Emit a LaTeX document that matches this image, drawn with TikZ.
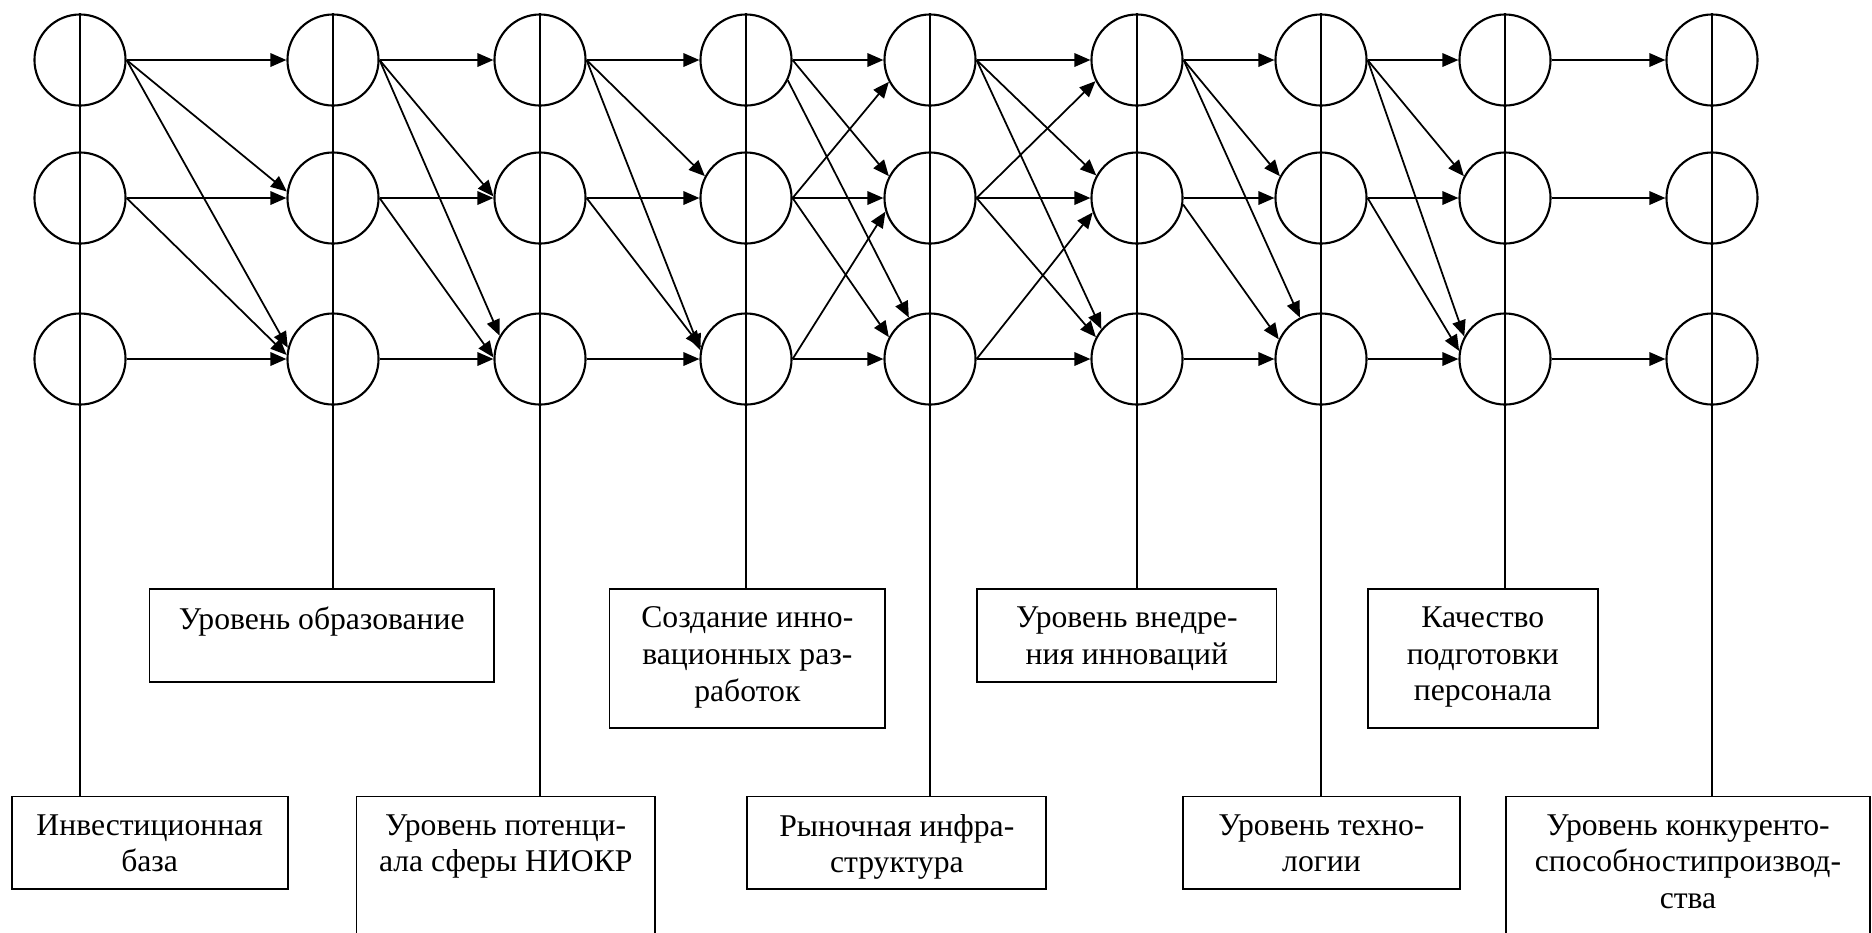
\documentclass[tikz,border=0pt]{standalone}
\usepackage{fontspec}
\setmainfont{Liberation Serif}
\usetikzlibrary{arrows.meta}
\usetikzlibrary{positioning}
\tikzset{
    mycircle/.style = {circle, draw=black, line width=0.6pt, minimum size=0.91cm, inner sep=0pt},
    mybox/.style = {rectangle, draw=black, line width=0.5pt, anchor=north west, inner sep=0pt},
    boxtext/.style = {anchor=north, yshift=-0.18cm, align=center, inner sep=0pt, font=\fontsize{9}{10.4}\selectfont},
    edgen/.style = {-{Triangle[length=0.16cm,width=0.135cm]}, line width=0.5pt},
    stem/.style = {line width=0.55pt}
}
\begin{document}
\begin{tikzpicture}[x=0.01cm,y=-0.01cm]
\useasboundingbox (0,0) rectangle (1872,932);
%
\node[mycircle] at (80,60) (n11) {};
\node[mycircle] at (80,198) (n12) {};
\node[mycircle] at (80,359) (n13) {};
\node[mycircle] at (333,60) (n21) {};
\node[mycircle] at (333,198) (n22) {};
\node[mycircle] at (333,359) (n23) {};
\node[mycircle] at (540,60) (n31) {};
\node[mycircle] at (540,198) (n32) {};
\node[mycircle] at (540,359) (n33) {};
\node[mycircle] at (746,60) (n41) {};
\node[mycircle] at (746,198) (n42) {};
\node[mycircle] at (746,359) (n43) {};
\node[mycircle] at (930,60) (n51) {};
\node[mycircle] at (930,198) (n52) {};
\node[mycircle] at (930,359) (n53) {};
\node[mycircle] at (1137,60) (n61) {};
\node[mycircle] at (1137,198) (n62) {};
\node[mycircle] at (1137,359) (n63) {};
\node[mycircle] at (1321,60) (n71) {};
\node[mycircle] at (1321,198) (n72) {};
\node[mycircle] at (1321,359) (n73) {};
\node[mycircle] at (1505,60) (n81) {};
\node[mycircle] at (1505,198) (n82) {};
\node[mycircle] at (1505,359) (n83) {};
\node[mycircle] at (1712,60) (n91) {};
\node[mycircle] at (1712,198) (n92) {};
\node[mycircle] at (1712,359) (n93) {};
%
\node[mybox, minimum width=3.441cm, minimum height=0.924cm, label={[boxtext]north:Уровень образование}] at (148.7,588.3) (obraz) {};
\node[mybox, minimum width=2.758cm, minimum height=1.384cm, label={[boxtext]north:Создание инно-\\вационных раз-\\работок}] at (608.5,588.3) (sozd) {};
\node[mybox, minimum width=2.991cm, minimum height=0.924cm, label={[boxtext]north:Уровень внедре-\\ния инноваций}] at (976.3,588.3) (vnedr) {};
\node[mybox, minimum width=2.301cm, minimum height=1.384cm, label={[boxtext]north:Качество\\подготовки\\персонала}] at (1366.8,588.3) (kachestvo) {};
\node[mybox, minimum width=2.758cm, minimum height=0.92cm, label={[boxtext]north:Инвестиционная\\база}] at (10.8,795.7) (invest) {};
\node[mybox, minimum width=2.985cm, minimum height=1.384cm, label={[boxtext]north:Уровень потенци-\\ала сферы НИОКР}] at (355.5,795.7) (niokr) {};
\node[mybox, minimum width=2.989cm, minimum height=0.92cm, label={[boxtext]north:Рыночная инфра-\\структура}] at (746.4,795.7) (rynok) {};
\node[mybox, minimum width=2.764cm, minimum height=0.92cm, label={[boxtext]north:Уровень техно-\\логии}] at (1182.3,795.7) (tehno) {};
\node[mybox, minimum width=3.64cm, minimum height=1.384cm, label={[boxtext]north:Уровень конкуренто-\\способностипроизвод-\\ства}] at (1505,795.7) (konkur) {};
%
\draw[stem] (n11.north) -- (n11.north |- invest.north);
\draw[stem] (n21.north) -- (n21.north |- obraz.north);
\draw[stem] (n31.north) -- (n31.north |- niokr.north);
\draw[stem] (n41.north) -- (n41.north |- sozd.north);
\draw[stem] (n51.north) -- (n51.north |- rynok.north);
\draw[stem] (n61.north) -- (n61.north |- vnedr.north);
\draw[stem] (n71.north) -- (n71.north |- tehno.north);
\draw[stem] (n81.north) -- (n81.north |- kachestvo.north);
\draw[stem] (n91.north) -- (n91.north |- konkur.north);
%
\draw[edgen] (n11.east) -- (n21.west);
\draw[edgen] (n11.east) -- (n22.172);
\draw[edgen] (n11.east) -- (n23.166);
\draw[edgen] (n12.east) -- (n22.west);
\draw[edgen] (n12.east) -- (n23.175);
\draw[edgen] (n13.east) -- (n23.west);
%
\draw[edgen] (n21.east) -- (n31.west);
\draw[edgen] (n21.east) -- (n32.178);
\draw[edgen] (n21.east) -- (n33.150);
\draw[edgen] (n22.east) -- (n32.west);
\draw[edgen] (n22.east) -- (n33.178);
\draw[edgen] (n23.east) -- (n33.west);
%
\draw[edgen] (n31.east) -- (n41.west);
\draw[edgen] (n31.east) -- (n42.152);
\draw[edgen] (n31.east) -- (n43.169);
\draw[edgen] (n32.east) -- (n42.west);
\draw[edgen] (n32.east) -- (n43.165);
\draw[edgen] (n33.east) -- (n43.west);
%
\draw[edgen] (n41.east) -- (n51.west);
\draw[edgen] (n41.east) -- (n52.152);
\draw[edgen] (n41.-26) -- (n53.117);
\draw[edgen] (n42.east) -- (n51.208);
\draw[edgen] (n42.east) -- (n52.west);
\draw[edgen] (n42.east) -- (n53.152);
\draw[edgen] (n43.east) -- (n52.197);
\draw[edgen] (n43.east) -- (n53.west);
%
\draw[edgen] (n51.east) -- (n61.west);
\draw[edgen] (n51.east) -- (n62.151);
\draw[edgen] (n51.east) -- (n63.140);
\draw[edgen] (n52.east) -- (n61.207);
\draw[edgen] (n52.east) -- (n62.west);
\draw[edgen] (n52.east) -- (n63.152);
\draw[edgen] (n53.east) -- (n62.198);
\draw[edgen] (n53.east) -- (n63.west);
%
\draw[edgen] (n61.east) -- (n71.west);
\draw[edgen] (n61.east) -- (n72.152);
\draw[edgen] (n61.east) -- (n73.117);
\draw[edgen] (n62.east) -- (n72.west);
\draw[edgen] (n62.-8) -- (n73.155);
\draw[edgen] (n63.east) -- (n73.west);
%
\draw[edgen] (n71.east) -- (n81.west);
\draw[edgen] (n71.east) -- (n82.152);
\draw[edgen] (n71.east) -- (n83.151);
\draw[edgen] (n72.east) -- (n82.west);
\draw[edgen] (n72.east) -- (n83.170);
\draw[edgen] (n73.east) -- (n83.west);
%
\draw[edgen] (n81.east) -- (n91.west);
\draw[edgen] (n82.east) -- (n92.west);
\draw[edgen] (n83.east) -- (n93.west);
\end{tikzpicture}
\end{document}
